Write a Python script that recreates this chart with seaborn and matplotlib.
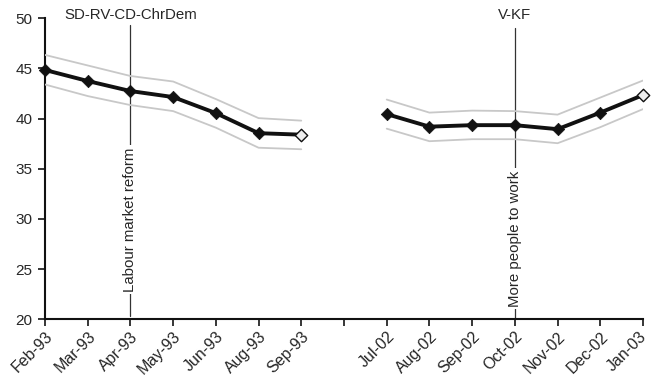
import matplotlib
matplotlib.use("Agg")
import matplotlib.pyplot as plt
import matplotlib.transforms as mtransforms
import seaborn as sns
import pandas as pd
import numpy as np

sns.set_style("white")
plt.rcParams['font.family'] = ['Liberation Sans', 'DejaVu Sans']

# ---- data ----
tick_labels = ["Feb-93", "Mar-93", "Apr-93", "May-93", "Jun-93", "Aug-93", "Sep-93", "",
               "Jul-02", "Aug-02", "Sep-02", "Oct-02", "Nov-02", "Dec-02", "Jan-03"]
seg1_labels = ["Feb-93", "Mar-93", "Apr-93", "May-93", "Jun-93", "Aug-93", "Sep-93"]
seg1_value = [44.85, 43.75, 42.75, 42.15, 40.55, 38.55, 38.4]
seg1_upper = [46.35, 45.3, 44.25, 43.7, 41.95, 40.05, 39.8]
seg1_lower = [43.4, 42.25, 41.35, 40.75, 39.1, 37.1, 36.95]

seg2_labels = ["Jul-02", "Aug-02", "Sep-02", "Oct-02", "Nov-02", "Dec-02", "Jan-03"]
seg2_value = [40.45, 39.2, 39.35, 39.35, 38.95, 40.6, 42.35]
seg2_upper = [41.9, 40.6, 40.8, 40.75, 40.4, 42.1, 43.8]
seg2_lower = [39.0, 37.75, 37.95, 37.95, 37.55, 39.15, 40.95]

annotations = [("Apr-93", "SD-RV-CD-ChrDem", "Labour market reform"),
               ("Oct-02", "V-KF", "More people to work")]

# ---- build table ----
pos = {lab: i for i, lab in enumerate(tick_labels) if lab}
rows = []
for seg, labs, v, u, l in [(1, seg1_labels, seg1_value, seg1_upper, seg1_lower),
                           (2, seg2_labels, seg2_value, seg2_upper, seg2_lower)]:
    for i, lab in enumerate(labs):
        rows.append(dict(segment=seg, label=lab, pos=pos[lab], value=v[i], upper=u[i],
                         lower=l[i], last=(i == len(labs) - 1)))
df = pd.DataFrame(rows)

fig = plt.figure(figsize=(6.51, 3.84), dpi=100)
ax = fig.add_axes([45 / 651, (384 - 319.3) / 384, (643 - 45) / 651, (319.3 - 18.3) / 384])

# annotation lines
ann_geom = {"Apr-93": (49.33, 20.3, 22.75), "Oct-02": (49.0, 20.05, 21.25)}
for lab, top_txt, side_txt in annotations:
    x = pos[lab]
    ytop, ybot, ytxt = ann_geom[lab]
    ax.plot([x, x], [ybot, ytop], color="#333333", lw=0.9, zorder=1, clip_on=False)
    ax.text(x, 50.28, top_txt, ha="center", va="center", fontsize=10.8, clip_on=False)
    ax.text(x, ytxt, side_txt, rotation=90, ha="center", va="bottom", fontsize=10.8,
            bbox=dict(facecolor="white", edgecolor="none", pad=1.5), zorder=2)

# bands
for col in ["upper", "lower"]:
    sns.lineplot(data=df, x="pos", y=col, units="segment", estimator=None, ax=ax,
                 color="#c8c8c8", lw=1.3, zorder=3, legend=False)

# main line
sns.lineplot(data=df, x="pos", y="value", units="segment", estimator=None, ax=ax,
             color="#111111", lw=2.8, zorder=4, legend=False)
sns.scatterplot(data=df[~df["last"]], x="pos", y="value", marker="D", s=40,
                color="#111111", edgecolor="#111111", ax=ax, zorder=5, legend=False)
sns.scatterplot(data=df[df["last"]], x="pos", y="value", marker="D", s=40,
                color="#eeeeee", edgecolor="#111111", linewidth=1.0, ax=ax, zorder=6,
                legend=False, clip_on=False)
for c in ax.collections:
    c.set_clip_on(False)

ax.set_xlim(0, 14)
ax.set_ylim(20, 50)
ax.set_xticks(range(len(tick_labels)))
ax.set_xticklabels(tick_labels, rotation=45, ha="right", rotation_mode="anchor", fontsize=11.5)
ax.set_yticks(range(20, 51, 5))
ax.tick_params(axis="y", labelsize=11, length=5, width=1.3, direction="out", left=True, pad=4)
ax.tick_params(axis="x", length=5, width=1.3, direction="out", bottom=True, pad=2)
ax.set_xlabel("")
ax.set_ylabel("")
sns.despine(ax=ax)
for s in ["left", "bottom"]:
    ax.spines[s].set_color("#111111")
    ax.spines[s].set_linewidth(1.5)

# nudge the last tick label so it stays inside the figure
last = ax.get_xticklabels()[-1]
last.set_transform(last.get_transform() + mtransforms.ScaledTranslation(-4 / 100, 0, fig.dpi_scale_trans))

fig.savefig("out.png", dpi=100)
